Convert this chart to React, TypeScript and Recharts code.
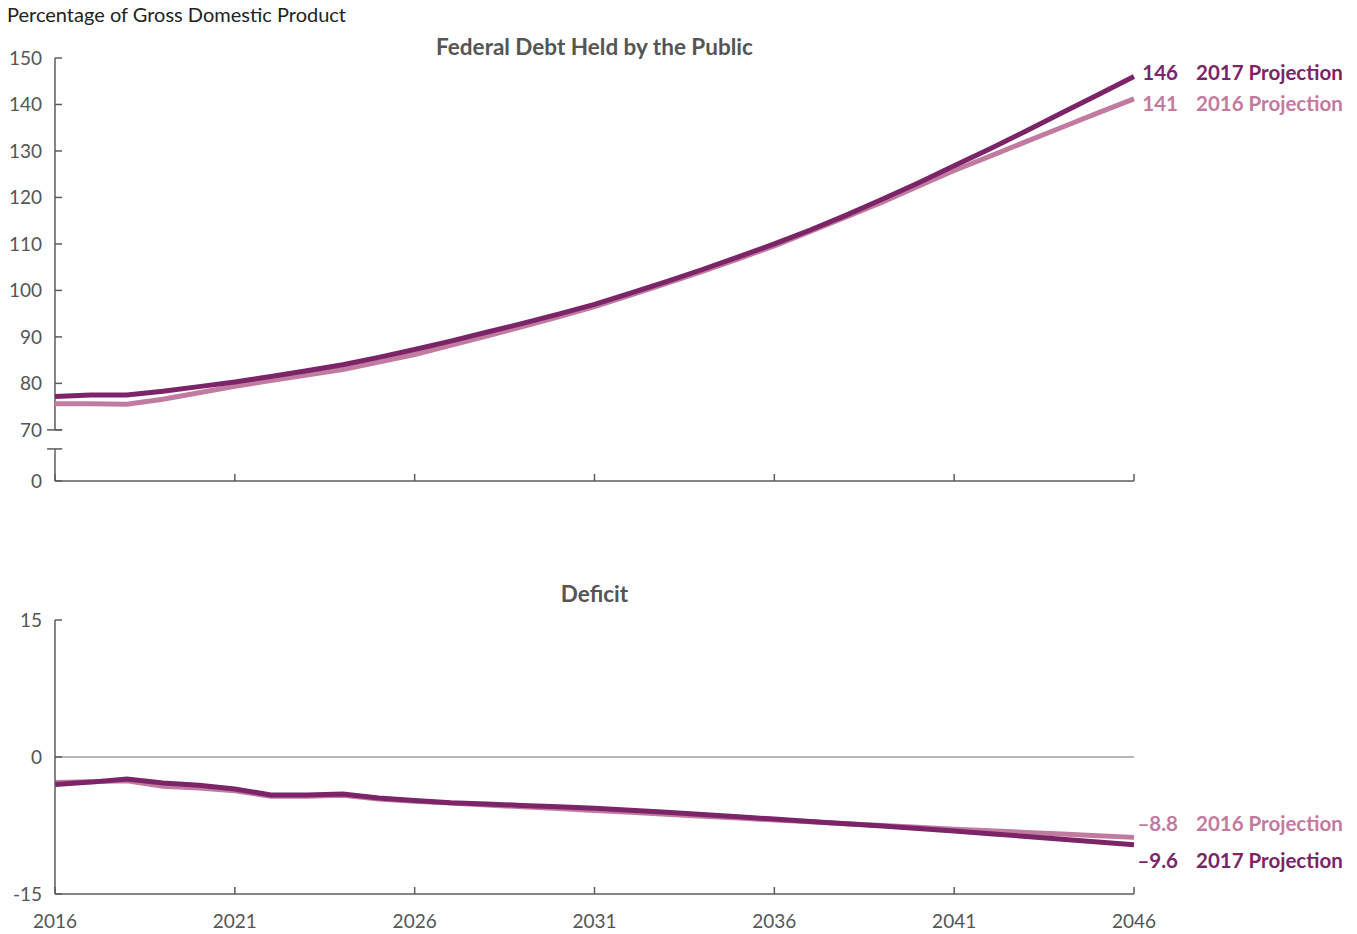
import { LineChart, Line, XAxis, YAxis, ReferenceLine } from "recharts"

const years = [
  2016, 2017, 2018, 2019, 2020, 2021, 2022, 2023, 2024, 2025, 2026,
  2027, 2028, 2029, 2030, 2031, 2032, 2033, 2034, 2035, 2036,
  2037, 2038, 2039, 2040, 2041, 2042, 2043, 2044, 2045, 2046,
]

// debt held by the public, % of GDP
const debt2016 = [
  75.6, 75.6, 75.5, 76.6, 78.0, 79.4, 80.6, 81.8, 83.0, 84.6, 86.2,
  88.2, 90.2, 92.2, 94.3, 96.5, 99.0, 101.5, 104.1, 106.8, 109.6,
  112.7, 115.8, 119.0, 122.4, 125.8, 128.9, 132.0, 135.1, 138.2, 141.2,
]
const debt2017 = [
  77.2, 77.5, 77.5, 78.3, 79.3, 80.3, 81.5, 82.7, 84.0, 85.6, 87.3,
  89.1, 91.0, 92.9, 94.9, 97.0, 99.4, 101.9, 104.5, 107.2, 110.0,
  113.0, 116.2, 119.6, 123.1, 126.8, 130.5, 134.3, 138.2, 142.1, 146.0,
]

// deficit, % of GDP
const deficit2016 = [
  -2.8, -2.7, -2.6, -3.2, -3.4, -3.7, -4.3, -4.3, -4.2, -4.6, -4.85,
  -5.05, -5.25, -5.45, -5.65, -5.85, -6.06, -6.27, -6.48, -6.69, -6.9,
  -7.1, -7.3, -7.5, -7.7, -7.9, -8.08, -8.26, -8.44, -8.62, -8.8,
]
const deficit2017 = [
  -3.0, -2.75, -2.4, -2.85, -3.1, -3.5, -4.15, -4.15, -4.05, -4.5, -4.75,
  -5.0, -5.15, -5.3, -5.45, -5.6, -5.83, -6.06, -6.3, -6.55, -6.8,
  -7.05, -7.3, -7.55, -7.82, -8.1, -8.4, -8.7, -9.0, -9.3, -9.6,
]

const yearTicks = [2016, 2021, 2026, 2031, 2036, 2041, 2046]
// 59 stands in for the broken-axis "0"
const debtTicks = [59, 70, 80, 90, 100, 110, 120, 130, 140, 150]
const deficitTicks = [-15, 0, 15]

const debtData = years.map((year, i) => ({ year, p2016: debt2016[i], p2017: debt2017[i] }))
const deficitData = years.map((year, i) => ({ year, p2016: deficit2016[i], p2017: deficit2017[i] }))

const DARK = "#7b2468"
const LIGHT = "#c27ba0"
const AXIS = "#5c5c5c"
const TEXT = "#555555"
const FONT = "Lato, 'Open Sans', sans-serif"
const last = years.length - 1

const fmtDebt = (v: number) => String(Math.round(v))
const fmtDeficit = (v: number) => (v < 0 ? "\u2013" : "") + Math.abs(v).toFixed(1)

function endLabel(values: number[], fmt: (v: number) => string, name: string, color: string, dy: number) {
  return (props: any) => {
    if (props.index !== last) return <g />
    const { x, y } = props
    return (
      <g>
        <text x={x + 44} y={y + dy} textAnchor="end" dominantBaseline="central" fill={color} fontWeight={700} fontSize={20.5} fontFamily={FONT}>
          {fmt(values[last])}
        </text>
        <text x={x + 62} y={y + dy} textAnchor="start" dominantBaseline="central" fill={color} fontWeight={700} fontSize={20.5} fontFamily={FONT}>
          {name}
        </text>
      </g>
    )
  }
}

const tickStyle = { fill: TEXT, fontSize: 19, fontFamily: FONT }
const seg = { stroke: AXIS, strokeWidth: 1.5, ifOverflow: "visible" as const }

export default function App() {
  return (
    <div style={{ position: "absolute", left: 0, top: 0, width: 1357, height: 934, background: "#fff", fontFamily: FONT }}>
      <div style={{ position: "absolute", left: 7, top: 2, fontSize: 20, color: "#222" }}>Percentage of Gross Domestic Product</div>
      <div style={{ position: "absolute", left: 55, width: 1079, top: 33, textAlign: "center", fontSize: 22.5, fontWeight: 700, color: TEXT }}>
        Federal Debt Held by the Public
      </div>
      <div style={{ position: "absolute", left: 55, width: 1079, top: 580, textAlign: "center", fontSize: 22.5, fontWeight: 700, color: TEXT }}>
        Deficit
      </div>

      <div style={{ position: "absolute", left: 0, top: 0 }}>
        <LineChart width={1357} height={500} data={debtData} margin={{ top: 58, right: 223, bottom: 0, left: 5 }}>
          <XAxis
            dataKey="year"
            type="number"
            domain={[2016, 2046]}
            ticks={yearTicks}
            interval={0}
            height={19}
            tickSize={-7}
            tickFormatter={() => ""}
            stroke={AXIS}
            strokeWidth={1.5}
          />
          <YAxis
            type="number"
            domain={[59, 150]}
            ticks={debtTicks}
            interval={0}
            width={50}
            axisLine={false}
            tickSize={-7}
            tickMargin={20}
            tick={tickStyle}
            tickLine={{ stroke: AXIS, strokeWidth: 1.5 }}
            tickFormatter={(v: number) => (v === 59 ? "0" : String(v))}
          />
          <ReferenceLine segment={[{ x: 2016, y: 70 }, { x: 2016, y: 150 }]} {...seg} />
          <ReferenceLine segment={[{ x: 2016, y: 59 }, { x: 2016, y: 65.9 }]} {...seg} />
          <ReferenceLine segment={[{ x: 2015.78, y: 70 }, { x: 2016.2, y: 70 }]} {...seg} />
          <ReferenceLine segment={[{ x: 2015.78, y: 65.9 }, { x: 2016.2, y: 65.9 }]} {...seg} />
          <Line
            dataKey="p2016"
            stroke={LIGHT}
            strokeWidth={5}
            dot={false}
            isAnimationActive={false}
            label={endLabel(debt2016, fmtDebt, "2016 Projection", LIGHT, 4)}
          />
          <Line
            dataKey="p2017"
            stroke={DARK}
            strokeWidth={5}
            dot={false}
            isAnimationActive={false}
            label={endLabel(debt2017, fmtDebt, "2017 Projection", DARK, -5)}
          />
        </LineChart>
      </div>

      <div style={{ position: "absolute", left: 0, top: 560 }}>
        <LineChart width={1357} height={374} data={deficitData} margin={{ top: 60, right: 223, bottom: 10, left: 5 }}>
          <XAxis
            dataKey="year"
            type="number"
            domain={[2016, 2046]}
            ticks={yearTicks}
            interval={0}
            height={30}
            tickSize={-7}
            tickMargin={28}
            tick={tickStyle}
            stroke={AXIS}
            strokeWidth={1.5}
          />
          <YAxis
            type="number"
            domain={[-15, 15]}
            ticks={deficitTicks}
            interval={0}
            width={50}
            tickSize={-7}
            tickMargin={20}
            tick={tickStyle}
            stroke={AXIS}
            strokeWidth={1.5}
          />
          <ReferenceLine y={0} stroke="#6e6e6e" strokeWidth={1} />
          <Line
            dataKey="p2016"
            stroke={LIGHT}
            strokeWidth={5}
            dot={false}
            isAnimationActive={false}
            label={endLabel(deficit2016, fmtDeficit, "2016 Projection", LIGHT, -14)}
          />
          <Line
            dataKey="p2017"
            stroke={DARK}
            strokeWidth={5}
            dot={false}
            isAnimationActive={false}
            label={endLabel(deficit2017, fmtDeficit, "2017 Projection", DARK, 15)}
          />
        </LineChart>
      </div>
    </div>
  )
}
